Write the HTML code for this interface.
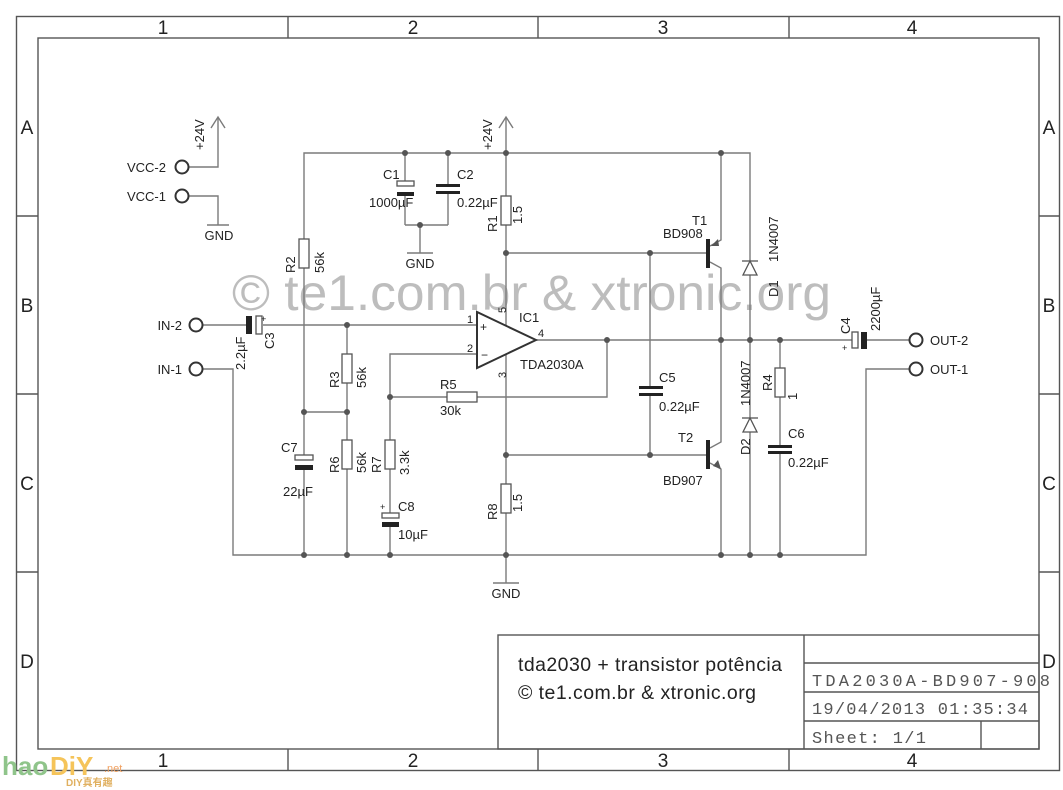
<!DOCTYPE html>
<html><head><meta charset="utf-8"><style>
html,body{margin:0;padding:0;background:#fff}
svg{display:block}
text{font-family:"Liberation Sans",sans-serif;fill:#222}
.w{stroke:#7a7a7a;stroke-width:1.4;fill:none}
.f{stroke:#555;stroke-width:1.4;fill:none}
.n{fill:#555}
.t{font-size:13px}
.m{font-family:"Liberation Mono",monospace;fill:#555;font-size:17px}
</style></head><body>
<svg width="1063" height="790" viewBox="0 0 1063 790" xmlns="http://www.w3.org/2000/svg">
<rect x="16.5" y="16.5" width="1043" height="754" class="f"/>
<rect x="38" y="38" width="1001" height="711" class="f"/>
<g class="f">
<line x1="288" y1="16" x2="288" y2="38"/><line x1="538" y1="16" x2="538" y2="38"/><line x1="789" y1="16" x2="789" y2="38"/>
<line x1="288" y1="749" x2="288" y2="771"/><line x1="538" y1="749" x2="538" y2="771"/><line x1="789" y1="749" x2="789" y2="771"/>
<line x1="16" y1="216" x2="38" y2="216"/><line x1="16" y1="394" x2="38" y2="394"/><line x1="16" y1="572" x2="38" y2="572"/>
<line x1="1039" y1="216" x2="1060" y2="216"/><line x1="1039" y1="394" x2="1060" y2="394"/><line x1="1039" y1="572" x2="1060" y2="572"/>
</g>
<g style="font-size:19px" text-anchor="middle">
<text x="163" y="34">1</text><text x="413" y="34">2</text><text x="663" y="34">3</text><text x="912" y="34">4</text>
<text x="163" y="767">1</text><text x="413" y="767">2</text><text x="663" y="767">3</text><text x="912" y="767">4</text>
<text x="27" y="134">A</text><text x="27" y="312">B</text><text x="27" y="490">C</text><text x="27" y="668">D</text>
<text x="1049" y="134">A</text><text x="1049" y="312">B</text><text x="1049" y="490">C</text><text x="1049" y="668">D</text>
</g>
<g class="f">
<rect x="498" y="635" width="541" height="114"/>
<line x1="804" y1="635" x2="804" y2="749"/>
<line x1="804" y1="663" x2="1039" y2="663"/>
<line x1="804" y1="692" x2="1039" y2="692"/>
<line x1="804" y1="721" x2="1039" y2="721"/>
<line x1="981" y1="721" x2="981" y2="749"/>
</g>
<text x="518" y="671" style="font-size:19.5px" textLength="264">tda2030 + transistor potência</text>
<text x="518" y="699" style="font-size:19.5px" textLength="238">© te1.com.br &amp; xtronic.org</text>
<text x="812" y="686" class="m" textLength="238">TDA2030A-BD907-908</text>
<text x="812" y="714" class="m" textLength="216">19/04/2013 01:35:34</text>
<text x="812" y="743" class="m" textLength="114">Sheet: 1/1</text>

<text x="232" y="310" style="font-size:50px;fill:#bdbdbd" textLength="599" lengthAdjust="spacingAndGlyphs">© te1.com.br &amp; xtronic.org</text>

<g class="w">
<polyline points="189,167 218,167 218,118"/>
<polyline points="211,128 218,117 225,128"/>
<polyline points="189,196 218,196 218,225"/>
<line x1="207" y1="225" x2="229" y2="225"/>
<polyline points="304,239 304,153 750,153 750,260"/>
<line x1="506" y1="118" x2="506" y2="196"/>
<polyline points="499,128 506,117 513,128"/>
<line x1="405" y1="153" x2="405" y2="182"/><line x1="405" y1="196" x2="405" y2="225"/>
<line x1="448" y1="153" x2="448" y2="184"/><line x1="448" y1="193" x2="448" y2="225"/>
<line x1="405" y1="225" x2="448" y2="225"/>
<line x1="420" y1="225" x2="420" y2="253"/><line x1="407" y1="253" x2="433" y2="253"/>
<line x1="506" y1="225" x2="506" y2="326"/>
<line x1="506" y1="253" x2="708" y2="253"/>
<line x1="304" y1="268" x2="304" y2="455"/>
<line x1="304" y1="470" x2="304" y2="555"/>
<line x1="304" y1="412" x2="347" y2="412"/>
<line x1="203" y1="325" x2="246" y2="325"/>
<line x1="263" y1="325" x2="477" y2="325"/>
<line x1="347" y1="325" x2="347" y2="354"/>
<line x1="347" y1="383" x2="347" y2="440"/>
<line x1="347" y1="469" x2="347" y2="555"/>
<polyline points="203,369 233,369 233,555 866,555 866,369 909,369"/>
<polyline points="477,354 390,354 390,440"/>
<line x1="390" y1="469" x2="390" y2="513"/>
<line x1="390" y1="527" x2="390" y2="555"/>
<line x1="390" y1="397" x2="447" y2="397"/>
<polyline points="477,397 607,397 607,340"/>
<line x1="506" y1="354" x2="506" y2="484"/>
<line x1="506" y1="513" x2="506" y2="583"/>
<line x1="493" y1="583" x2="519" y2="583"/>
<line x1="506" y1="455" x2="708" y2="455"/>
<line x1="536" y1="340" x2="852" y2="340"/>
<line x1="867" y1="340" x2="909" y2="340"/>
<line x1="650" y1="253" x2="650" y2="387"/>
<line x1="650" y1="396" x2="650" y2="455"/>
<polyline points="710,246 721,240 721,153"/>
<polyline points="710,262 721,268 721,340"/>
<polyline points="710,448 721,442 721,340"/>
<polyline points="710,463 721,469 721,555"/>
<line x1="750" y1="260" x2="750" y2="555"/>
<line x1="780" y1="340" x2="780" y2="368"/>
<line x1="780" y1="397" x2="780" y2="445"/>
<line x1="780" y1="453" x2="780" y2="555"/>
</g>
<g class="t" text-anchor="middle">
<text x="219" y="240">GND</text><text x="420" y="268">GND</text><text x="506" y="598">GND</text>
</g>
<g fill="#fff" stroke="#333" stroke-width="2">
<circle cx="182" cy="167" r="6.5"/><circle cx="182" cy="196" r="6.5"/>
<circle cx="196" cy="325" r="6.5"/><circle cx="196" cy="369" r="6.5"/>
<circle cx="916" cy="340" r="6.5"/><circle cx="916" cy="369" r="6.5"/>
</g>
<g class="t">
<text x="166" y="172" text-anchor="end">VCC-2</text>
<text x="166" y="201" text-anchor="end">VCC-1</text>
<text x="182" y="330" text-anchor="end">IN-2</text>
<text x="182" y="374" text-anchor="end">IN-1</text>
<text x="930" y="345">OUT-2</text>
<text x="930" y="374">OUT-1</text>
</g>
<g fill="#fff" stroke="#555" stroke-width="1.3">
<rect x="501" y="196" width="10" height="29"/>
<rect x="299" y="239" width="10" height="29"/>
<rect x="342" y="354" width="10" height="29"/>
<rect x="342" y="440" width="10" height="29"/>
<rect x="385" y="440" width="10" height="29"/>
<rect x="447" y="392" width="30" height="10"/>
<rect x="501" y="484" width="10" height="29"/>
<rect x="775" y="368" width="10" height="29"/>
<rect x="397" y="181" width="17" height="5"/>
<rect x="256" y="316" width="6" height="18"/>
<rect x="295" y="455" width="18" height="5"/>
<rect x="382" y="513" width="17" height="5"/>
<rect x="852" y="332" width="6" height="16"/>
</g>
<g fill="#222">
<rect x="397" y="192" width="17" height="4"/>
<rect x="246" y="316" width="6" height="18"/>
<rect x="295" y="465" width="18" height="5"/>
<rect x="382" y="522" width="17" height="5"/>
<rect x="861" y="332" width="6" height="17"/>
<rect x="436" y="184" width="24" height="3"/><rect x="436" y="191" width="24" height="3"/>
<rect x="639" y="386" width="24" height="3"/><rect x="639" y="393" width="24" height="3"/>
<rect x="768" y="445" width="24" height="3"/><rect x="768" y="451" width="24" height="3"/>
<rect x="706" y="239" width="4" height="29"/>
<rect x="706" y="440" width="4" height="29"/>
</g>
<polygon points="711,246 718,239 719,246" fill="#555"/>
<polygon points="721,469 713,466 718,460" fill="#555"/>
<g stroke="#555" stroke-width="1.3" fill="#fff">
<polygon points="750,261 743,275 757,275"/>
<line x1="742" y1="261" x2="758" y2="261"/>
<polygon points="750,418 743,432 757,432"/>
<line x1="742" y1="418" x2="758" y2="418"/>
</g>
<polygon points="477,312 477,368 536,340" fill="#fff" stroke="#333" stroke-width="2"/>
<g class="t">
<text x="480" y="331" style="font-size:12px">+</text>
<text x="481" y="359" style="font-size:12px">−</text>
<text x="467" y="323" style="font-size:11px">1</text>
<text x="467" y="352" style="font-size:11px">2</text>
<text x="538" y="337" style="font-size:11px">4</text>
<text transform="translate(506,313) rotate(-90)" style="font-size:11px">5</text>
<text transform="translate(506,378) rotate(-90)" style="font-size:11px">3</text>
<text x="519" y="322">IC1</text>
<text x="520" y="369">TDA2030A</text>
</g>
<g class="n">
<circle cx="405" cy="153" r="3"/><circle cx="448" cy="153" r="3"/><circle cx="506" cy="153" r="3"/><circle cx="721" cy="153" r="3"/>
<circle cx="420" cy="225" r="3"/><circle cx="506" cy="253" r="3"/><circle cx="650" cy="253" r="3"/>
<circle cx="347" cy="325" r="3"/><circle cx="304" cy="412" r="3"/><circle cx="347" cy="412" r="3"/>
<circle cx="390" cy="397" r="3"/><circle cx="607" cy="340" r="3"/><circle cx="721" cy="340" r="3"/>
<circle cx="750" cy="340" r="3"/><circle cx="780" cy="340" r="3"/>
<circle cx="506" cy="455" r="3"/><circle cx="650" cy="455" r="3"/>
<circle cx="304" cy="555" r="3"/><circle cx="347" cy="555" r="3"/><circle cx="390" cy="555" r="3"/>
<circle cx="506" cy="555" r="3"/><circle cx="721" cy="555" r="3"/><circle cx="750" cy="555" r="3"/><circle cx="780" cy="555" r="3"/>
</g>
<g class="t">
<text transform="translate(204,150) rotate(-90)">+24V</text>
<text transform="translate(492,150) rotate(-90)">+24V</text>
<text x="383" y="179">C1</text>
<text x="369" y="207">1000µF</text>
<text x="457" y="179">C2</text>
<text x="457" y="207">0.22µF</text>
<text transform="translate(497,232) rotate(-90)">R1</text>
<text transform="translate(522,224) rotate(-90)">1.5</text>
<text transform="translate(295,273) rotate(-90)">R2</text>
<text transform="translate(324,273) rotate(-90)">56k</text>
<text transform="translate(245,370) rotate(-90)">2.2µF</text>
<text transform="translate(274,349) rotate(-90)">C3</text>
<text x="261" y="322" style="font-size:9px">+</text>
<text transform="translate(339,388) rotate(-90)">R3</text>
<text transform="translate(366,388) rotate(-90)">56k</text>
<text transform="translate(339,473) rotate(-90)">R6</text>
<text transform="translate(366,473) rotate(-90)">56k</text>
<text transform="translate(381,473) rotate(-90)">R7</text>
<text transform="translate(409,475) rotate(-90)">3.3k</text>
<text x="281" y="452">C7</text>
<text x="283" y="496">22µF</text>
<text x="380" y="510" style="font-size:9px">+</text>
<text x="398" y="511">C8</text>
<text x="398" y="539">10µF</text>
<text x="440" y="389">R5</text>
<text x="440" y="415">30k</text>
<text transform="translate(497,520) rotate(-90)">R8</text>
<text transform="translate(522,512) rotate(-90)">1.5</text>
<text x="659" y="382">C5</text>
<text x="659" y="411">0.22µF</text>
<text x="692" y="225">T1</text>
<text x="663" y="238">BD908</text>
<text x="678" y="442">T2</text>
<text x="663" y="485">BD907</text>
<text transform="translate(778,262) rotate(-90)">1N4007</text>
<text transform="translate(778,297) rotate(-90)">D1</text>
<text transform="translate(750,406) rotate(-90)">1N4007</text>
<text transform="translate(750,455) rotate(-90)">D2</text>
<text transform="translate(772,391) rotate(-90)">R4</text>
<text transform="translate(797,400) rotate(-90)">1</text>
<text x="788" y="438">C6</text>
<text x="788" y="467">0.22µF</text>
<text transform="translate(850,334) rotate(-90)">C4</text>
<text transform="translate(880,331) rotate(-90)">2200µF</text>
<text x="842" y="351" style="font-size:9px">+</text>
</g>
<text x="2" y="775" style="font-size:26px;font-weight:bold;fill:#8fc48a">hao</text>
<text x="50" y="775" style="font-size:26px;font-weight:bold;fill:#f5c45a">DiY</text>
<text x="104" y="772" style="font-size:11px;fill:#f0a060">.net</text>
<text x="66" y="786" style="font-size:10px;font-weight:bold;fill:#e0b060;font-family:'Liberation Sans','Noto Sans CJK SC',sans-serif">DIY真有趣</text>
</svg>
</body></html>
